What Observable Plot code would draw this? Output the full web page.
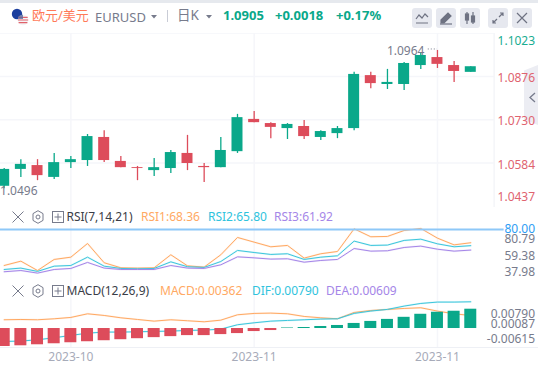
<!DOCTYPE html>
<html><head><meta charset="utf-8">
<script src="https://cdn.jsdelivr.net/npm/d3@7"></script>
<script src="https://cdn.jsdelivr.net/npm/@observablehq/plot@0.6"></script>
<style>
html,body{margin:0;padding:0;background:#fff}
body{width:538px;height:367px;position:relative;overflow:hidden;font-family:"Noto Sans","Noto Sans CJK SC",sans-serif}
.strip{position:absolute;left:0;top:0;width:538px;height:3px;background:#e6e9ee}
.t{position:absolute;white-space:nowrap;line-height:16px;transform:translateY(-8px)}
.pane{position:absolute;left:0}
.btn{position:absolute;top:8px;width:20px;height:20px;border-radius:3px;background:#e6e8ef}
.btn svg,.ico{position:absolute;display:block}
.tab{position:absolute;left:524px;top:65px;width:14px;height:60px;background:#ecedf3;clip-path:polygon(100% 0,0 9%,0 91%,100% 100%)}
</style></head><body>
<div class="strip"></div>
<div class="tab"></div>
<div id="chart"></div>
<div id="ui"></div>
<script>
const opens  = [1.0505,1.0562,1.0575,1.0535,1.0585,1.0592,1.0670,1.0589,1.0568,1.0558,1.0565,1.0616,1.0572,1.0568,1.0622,1.0731,1.0717,1.0700,1.0707,1.0670,1.0683,1.0700,1.0879,1.0849,1.0849,1.0913,1.0940,1.0913,1.0890];
const closes = [1.0562,1.0579,1.0541,1.0585,1.0595,1.0673,1.0592,1.0568,1.0565,1.0568,1.0619,1.0582,1.0568,1.0626,1.0737,1.0720,1.0704,1.0714,1.0673,1.0690,1.0700,1.0883,1.0852,1.0856,1.0920,1.0947,1.0917,1.0893,1.0909];
const highs  = [1.0565,1.0595,1.0595,1.0616,1.0606,1.0680,1.0693,1.0606,1.0572,1.0599,1.0626,1.0677,1.0582,1.0670,1.0748,1.0758,1.0720,1.0717,1.0727,1.0693,1.0707,1.0890,1.0890,1.0900,1.0923,1.0957,1.0964,1.0927,1.0909];
const lows   = [1.0497,1.0535,1.0524,1.0528,1.0565,1.0572,1.0585,1.0568,1.0524,1.0538,1.0548,1.0558,1.0518,1.0568,1.0616,1.0720,1.0666,1.0663,1.0663,1.0660,1.0666,1.0693,1.0835,1.0832,1.0829,1.0900,1.0903,1.0856,1.0890];
const rsi1 = [48.4,52.2,44.0,53.7,55.7,67.7,50.8,46.4,46.1,46.4,57.8,48.1,47.0,57.8,73.0,68.9,64.8,66.0,54.9,58.7,60.7,80.6,73.6,73.9,79.1,80.9,72.4,66.5,68.36];
const rsi2 = [44.9,46.1,43.2,47.8,48.4,55.7,47.8,45.8,45.5,45.8,51.6,47.3,46.7,51.9,61.6,59.8,58.1,58.7,53.7,55.7,56.9,69.8,66.0,66.3,70.4,71.5,67.4,64.8,65.80];
const rsi3 = [42.9,44.0,41.7,44.9,45.8,51.1,46.1,44.9,44.9,44.9,48.4,46.1,45.8,49.0,56.0,55.1,54.0,54.3,51.3,52.8,53.7,63.3,61.0,61.3,64.2,65.4,62.7,61.0,61.92];
const dea  = [.00552,.00556,.00552,.00565,.00583,.00631,.00609,.00578,.00556,.00534,.00552,.00539,.00525,.00547,.00618,.00636,.00640,.00631,.00596,.00578,.00565,.00649,.00675,.00689,.00702,.00711,.00667,.00631,.00609];
const dif  = [.00265,.00270,.00287,.00314,.00345,.00375,.00389,.00389,.00393,.00398,.00402,.00411,.00415,.00428,.00486,.00512,.00534,.00543,.00552,.00561,.00565,.00636,.00667,.00689,.00733,.00768,.00786,.00786,.00790];
const hist = [-.00337,-.00324,-.00305,-.00286,-.00267,-.00248,-.00229,-.00210,-.00191,-.00171,-.00152,-.00133,-.00133,-.00114,-.00095,-.00057,-.00038,.00010,.00019,.00038,.00057,.00095,.00133,.00171,.00210,.00267,.00305,.00324,.00362];
const priceTicks = [1.1023,1.0876,1.0730,1.0584,1.0437];
const rsiTicks = [80.79,59.38,37.98];
const macdTicks = [0.00790,0.00087,-0.00615];
const xTickIndex = [4,15,26];
const xTickLabel = ["2023-10","2023-11","2023-11"];

const GREEN="#0aa88a",RED="#dd4c5b",ORANGE="#ffa963",CYAN="#3cc6dc",PURPLE="#a586e8",GRID="#f5f6fa",EDGE="#eef0f5",GRAY="#777b8c";
const FONT='"Noto Sans","Noto Sans CJK SC",sans-serif';
const idx = d3.range(opens.length);
const xScale = {type:"linear",domain:[-0.222,32.064],range:[0,538],axis:null};
const base = {width:538,marginTop:0,marginRight:0,marginBottom:0,marginLeft:0,x:xScale,
  style:{fontFamily:FONT,fontSize:"12px",background:"transparent",overflow:"hidden"}};
const line = (vals,stroke,extra={})=>[
  Plot.lineY(vals,{x:idx,y:vals,stroke,strokeWidth:2,strokeOpacity:.15,...extra}),
  Plot.lineY(vals,{x:idx,y:vals,stroke,strokeWidth:1,...extra})];
const place=(el,top)=>{el.classList.add("pane");el.style.top=top+"px";document.getElementById("chart").appendChild(el)};

// price pane
const up = idx.filter(i=>closes[i]>=opens[i]), dn = idx.filter(i=>closes[i]<opens[i]);
const priceOffset = [8,1.7,1.5,2,-9];
const candleMarks = (set,fill)=>[
  Plot.ruleX(set,{x:i=>i,y1:i=>lows[i],y2:i=>highs[i],stroke:fill,strokeWidth:1.3}),
  Plot.rect(set,{x1:i=>i-.33,x2:i=>i+.33,y1:i=>Math.min(opens[i],closes[i]),y2:i=>Math.max(opens[i],closes[i]),fill})];
place(Plot.plot({...base,height:174,y:{domain:[1.04333,1.10213],range:[174,0],axis:null},marks:[
  Plot.ruleY(priceTicks.slice(0,4),{x1:-0.222,x2:29.4,stroke:GRID,strokeWidth:1.5}),
  Plot.ruleX(xTickIndex,{stroke:GRID,strokeWidth:1.5}),
  Plot.ruleX([29.4],{stroke:EDGE}),
  ...candleMarks(up,GREEN),...candleMarks(dn,RED),
  Plot.ruleY([highs[26]+.0005],{x1:25.45,x2:26,stroke:GRAY,strokeDasharray:"1,2"}),
  Plot.text(["1.0964"],{x:[25.22],y:[highs[26]-.0004],text:d=>d,textAnchor:"end",fill:GRAY,fontSize:12}),
  Plot.text(["1.0496"],{x:[-.25],y:[lows[0]-.0007],text:d=>d,textAnchor:"start",fill:GRAY,fontSize:12}),
  ...priceTicks.map((t,k)=>Plot.text([t],{x:[31.86],y:[t],text:d=>d.toFixed(4),textAnchor:"end",dy:priceOffset[k],fill:k?"#e0636f":"#19ad92",fontSize:12})),
  Plot.frame({anchor:"bottom",stroke:EDGE})
]}),33);

// RSI pane
const rsiOffset=[11,3,-5];
place(Plot.plot({...base,height:72,y:{domain:[36.1,99.3],range:[72,0],axis:null},marks:[
  Plot.ruleX(xTickIndex,{stroke:GRID,strokeWidth:1.5}),
  ...line(rsi1,ORANGE),...line(rsi2,CYAN),...line(rsi3,PURPLE),
  Plot.ruleY([80],{x1:-0.222,x2:30,stroke:"#8ec8f8",strokeWidth:2}),
  Plot.text([80],{x:[31.86],y:[80],text:d=>d.toFixed(2),textAnchor:"end",fill:"#2b9df4",fontSize:12}),
  ...rsiTicks.map((t,k)=>Plot.text([t],{x:[31.86],y:[t],text:d=>d.toFixed(2),textAnchor:"end",dy:rsiOffset[k],fill:GRAY,fontSize:12})),
  Plot.frame({anchor:"bottom",stroke:EDGE})
]}),207);

// MACD pane: the two lines and the histogram have separate vertical scales in the source
place(Plot.plot({...base,height:88,marginBottom:20,y:{domain:[.00185,.01085],range:[68,0],axis:null},marks:[
  Plot.ruleX(xTickIndex,{stroke:GRID,strokeWidth:1.5}),
  ...line(dea,ORANGE),...line(dif,CYAN)
]}),279);
const macdOffset=[27.8,0,-22.5];
place(Plot.plot({...base,height:88,marginBottom:20,y:{domain:[-.00356,.00919],range:[68,0],axis:null},marks:[
  Plot.rect(idx.filter(i=>hist[i]<0),{x1:i=>i-.36,x2:i=>i+.36,y1:0,y2:i=>hist[i],fill:RED}),
  Plot.rect(idx.filter(i=>hist[i]>=0),{x1:i=>i-.36,x2:i=>i+.36,y1:0,y2:i=>hist[i],fill:GREEN}),
  ...macdTicks.map((t,k)=>Plot.text([t],{x:[31.86],y:[t],text:d=>d.toFixed(5),textAnchor:"end",dy:macdOffset[k],fill:GRAY,fontSize:12})),
  Plot.frame({anchor:"bottom",stroke:EDGE}),
  Plot.axisX({ticks:xTickIndex,tickFormat:d=>xTickLabel[xTickIndex.indexOf(d)],tickSize:0,tickPadding:5,label:null,fill:"#a7abb9",fontSize:12})
]}),279);

// header and legend rows
const ui=document.getElementById("ui");
const txt=(s,x,y,color,size=12,weight=400)=>`<span class="t" style="left:${x}px;top:${y}px;color:${color};font-size:${size}px;font-weight:${weight}">${s}</span>`;
const ico=(x,y,inner,w=14,h=14)=>`<svg class="ico" style="left:${x}px;top:${y}px" width="${w}" height="${h}" viewBox="0 0 ${w} ${h}" fill="none" stroke="#777b8c" stroke-width="1">${inner}</svg>`;
const caret=(x,y)=>ico(x,y,'<path d="M0 0H6L3 3.5Z" fill="#777b8c" stroke="none"/>',6,4);
const row=y=>ico(12,y-6,'<path d="M0.5 0.5L11.5 11.5M11.5 0.5L0.5 11.5"/>',12,12)+
  ico(32,y-7,'<path d="M6 .7L11 3.6V10.4L6 13.3L1 10.4V3.6Z"/><circle cx="6" cy="7" r="2"/>',12,14)+
  ico(52,y-6,'<rect x=".5" y=".5" width="11" height="11"/><path d="M6 2.5V9.5M2.5 6H9.5"/>',12,12);
let h='';
h+=`<svg class="ico" style="left:11px;top:8px" width="18" height="18" viewBox="0 0 18 18">
<circle cx="6" cy="6" r="5.2" fill="#1c3f9e"/><circle cx="12" cy="12" r="5.2" fill="#f4f4f6"/>
<path d="M7.3 9.4H16.7M6.9 12H17.2M7.6 14.6H16.4" stroke="#e0606a" stroke-width="1.2"/><path d="M7.3 8.6A5.2 5.2 0 0 1 12 6.8V11H6.9Z" fill="#5a6a9e" opacity=".8"/></svg>`;
h+=txt('欧元/美元',32,15,'#ff7a59',13);
h+=txt('EURUSD',95,16.5,GRAY,13)+caret(151,15);
h+=`<div style="position:absolute;left:167px;top:10px;width:1px;height:12px;background:#c9ccd6"></div>`;
h+=txt('日K',177,15,GRAY,13.5)+caret(206,15);
h+=txt('1.0905',223,15,GREEN,13,700)+txt('+0.0018',275,15,GREEN,13,700)+txt('+0.17%',336,15,GREEN,13,700);
const b=(x,inner)=>`<div class="btn" style="left:${x}px"><svg style="left:3px;top:3px" width="14" height="14" viewBox="0 0 14 14" fill="none" stroke="#6e7282" stroke-width="1.2">${inner}</svg></div>`;
h+=b(412,'<path d="M1 8L4 4L7 7L10 3L13 6M1 12H13"/>');
h+=b(436,'<path d="M2 9L9 2L12 5L5 12H2Z" fill="#6e7282"/><path d="M1 13H13"/>');
h+=b(460,'<path d="M4 1V13M10 1V13"/><rect x="2.5" y="3" width="3" height="6" fill="#6e7282"/><rect x="8.5" y="5" width="3" height="6" fill="#6e7282"/>');
h+=b(488,'<path d="M8 6L12 2M9 2H12V5M6 8L2 12M2 9V12H5"/>');
h+=b(512,'<path d="M2 2L12 12M12 2L2 12"/>');
h+=ico(529,92,'<path d="M6 1L1 5.5L6 10" stroke-width="1.3"/>',7,11);
h+=row(217)+txt('RSI(7,14,21)',66.5,217,'#3a3d47',12)+txt('RSI1:68.36',141,217,ORANGE,12)+txt('RSI2:65.80',208,217,'#2fc3dd',12)+txt('RSI3:61.92',274,217,PURPLE,12);
h+=row(291)+txt('MACD(12,26,9)',66.5,291,'#3a3d47',12)+txt('MACD:0.00362',160,291,ORANGE,12)+txt('DIF:0.00790',252,291,'#2fc3dd',12)+txt('DEA:0.00609',326,291,PURPLE,12);
ui.innerHTML=h;
</script>
</body></html>
